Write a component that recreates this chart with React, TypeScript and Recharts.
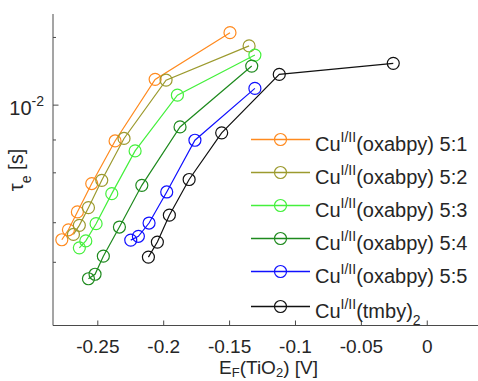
import { LineChart, Line, XAxis, YAxis } from "recharts";

// E_F(TiO2) [V] と tau_e [s] の読み取り値
const x51 = [-0.2773, -0.2723, -0.2655, -0.2546, -0.2369, -0.2065, -0.1497];
const y51 = [0.00252, 0.00279, 0.00335, 0.00448, 0.00693, 0.01302, 0.021];
const x52 = [-0.2685, -0.264, -0.2571, -0.247, -0.2301, -0.1982, -0.1352];
const y52 = [0.00266, 0.00292, 0.0035, 0.00463, 0.00711, 0.01292, 0.01834];
const x53 = [-0.264, -0.2591, -0.2513, -0.2394, -0.2217, -0.1896, -0.1308];
const y53 = [0.00232, 0.00249, 0.00297, 0.00404, 0.00626, 0.01108, 0.0167];
const x54 = [-0.2571, -0.2521, -0.2458, -0.2336, -0.2166, -0.1876, -0.1332];
const y54 = [0.00169, 0.00177, 0.00213, 0.00287, 0.0044, 0.008, 0.01492];
const x55 = [-0.225, -0.2192, -0.2111, -0.1977, -0.1763, -0.1308];
const y55 = [0.00251, 0.00261, 0.00299, 0.00411, 0.00698, 0.01187];
const xTm = [-0.2116, -0.2048, -0.1957, -0.1807, -0.156, -0.1123, -0.0258];
const yTm = [0.00211, 0.00246, 0.00324, 0.00467, 0.00753, 0.0137, 0.01534];

const names = ["5:1", "5:2", "5:3", "5:4", "5:5", "tmby"];
const colors = ["#FF8A1F", "#9C9A2E", "#44F03C", "#1E8A1E", "#1010FF", "#111111"];

const xTicks = [-0.25, -0.2, -0.15, -0.1, -0.05, 0];
const xTickLabels = ["-0.25", "-0.2", "-0.15", "-0.1", "-0.05", "0"];
const yTicks = [0.002, 0.003, 0.004, 0.005, 0.006, 0.007, 0.008, 0.009, 0.01, 0.02];

const toRows = (xs: number[], ys: number[]) => xs.map((x, i) => ({ x, y: ys[i] }));
const seriesData = [
  toRows(x51, y51),
  toRows(x52, y52),
  toRows(x53, y53),
  toRows(x54, y54),
  toRows(x55, y55),
  toRows(xTm, yTm),
];

const FONT = "'Liberation Sans', Arial, Helvetica, sans-serif";
const AXIS = "#4a4a4a";
const TXT = "#262626";

const BottomTick = ({ x, y, payload }: any) => {
  const i = xTicks.indexOf(payload.value);
  return (
    <g>
      <line x1={x} x2={x} y1={y} y2={y - 5} stroke={AXIS} />
      <text x={x} y={y + 27} textAnchor="middle" fontSize={19} fill={TXT} fontFamily={FONT}>
        {xTickLabels[i]}
      </text>
    </g>
  );
};

const TopTick = ({ x, y }: any) => (
  <line x1={x} x2={x} y1={y} y2={y + 5} stroke={AXIS} />
);

const LeftTick = ({ x, y, payload }: any) => {
  const major = payload.value === 0.01;
  return (
    <g>
      <line x1={x} x2={x + (major ? 5.5 : 3)} y1={y} y2={y} stroke={AXIS} />
      {major && (
        <text x={x - 9} y={y + 10} textAnchor="end" fill={TXT} fontFamily={FONT}>
          <tspan fontSize={20}>10</tspan>
          <tspan fontSize={14} dy={-9}>-2</tspan>
        </text>
      )}
    </g>
  );
};

const LegendLabel = ({ name }: { name: string }) => {
  if (name === "tmby") {
    return (
      <>
        <tspan>Cu</tspan>
        <tspan fontSize={14} dy={-9}>I/II</tspan>
        <tspan dy={9}>(tmby)</tspan>
        <tspan fontSize={14} dy={7}>2</tspan>
      </>
    );
  }
  return (
    <>
      <tspan>Cu</tspan>
      <tspan fontSize={14} dy={-9}>I/II</tspan>
      <tspan dy={9}>(oxabpy) {name}</tspan>
    </>
  );
};

export default function App() {
  return (
    <div style={{ width: 478, height: 381, position: "relative" }}>
      <style>{`body{margin:0;overflow:hidden}`}</style>
      <LineChart width={478} height={381} margin={{ top: 14, right: 0, bottom: 0, left: 0 }}>
        <XAxis
          dataKey="x"
          type="number"
          domain={[-0.284, 0.0385]}
          allowDataOverflow
          ticks={xTicks}
          tick={BottomTick}
          tickSize={0}
          tickMargin={0}
          tickLine={false}
          height={55.5}
          axisLine={{ stroke: AXIS }}
        />
        <XAxis
          xAxisId="top"
          orientation="top"
          dataKey="x"
          type="number"
          domain={[-0.284, 0.0385]}
          allowDataOverflow
          ticks={xTicks}
          tick={TopTick}
          tickSize={0}
          tickMargin={0}
          tickLine={false}
          height={0}
          axisLine={{ stroke: AXIS }}
        />
        <YAxis
          dataKey="y"
          type="number"
          scale="log"
          domain={[0.001047, 0.02543]}
          allowDataOverflow
          ticks={yTicks}
          tick={LeftTick}
          tickSize={0}
          tickMargin={0}
          tickLine={false}
          width={53}
          axisLine={{ stroke: AXIS }}
        />
        {seriesData.map((d, i) => (
          <Line
            key={names[i]}
            data={d}
            dataKey="y"
            name={names[i]}
            type="linear"
            stroke={colors[i]}
            strokeWidth={1.2}
            dot={{ r: 6, fill: "none", stroke: colors[i], strokeWidth: 1.2 }}
            isAnimationActive={false}
          />
        ))}
      </LineChart>
      <svg
        width={478}
        height={381}
        style={{ position: "absolute", left: 0, top: 0, pointerEvents: "none" }}
      >
        {names.map((n, i) => {
          const cy = 139.5 + i * 33 + (i === 5 ? 2 : 0);
          return (
            <g key={n}>
              <line x1={251} x2={310} y1={cy} y2={cy} stroke={colors[i]} strokeWidth={1.3} />
              <circle cx={280.5} cy={cy} r={6} fill="none" stroke={colors[i]} strokeWidth={1.2} />
              <text x={315} y={cy + 11.5} fontSize={20} fill={TXT} fontFamily={FONT}>
                <LegendLabel name={n} />
              </text>
            </g>
          );
        })}
        <text x={268.5} y={373.5} textAnchor="middle" fontSize={19} fill={TXT} fontFamily={FONT}>
          <tspan>E</tspan>
          <tspan fontSize={13} dy={3}>F</tspan>
          <tspan dy={-3}>(TiO</tspan>
          <tspan fontSize={13} dy={3}>2</tspan>
          <tspan dy={-3}>) [V]</tspan>
        </text>
        <text
          transform="translate(23,170) rotate(-90)"
          textAnchor="middle"
          fontSize={20}
          fill={TXT}
          fontFamily={FONT}
        >
          <tspan>τ</tspan>
          <tspan fontSize={14} dy={8}>e</tspan>
          <tspan dy={-8}> [s]</tspan>
        </text>
      </svg>
    </div>
  );
}
